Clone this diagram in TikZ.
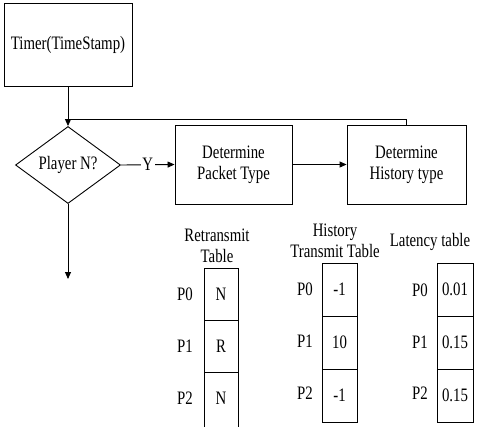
\documentclass[tikz,border=0pt]{standalone}
\usepackage{fontspec}
\setmainfont{Liberation Serif}
\usetikzlibrary{shapes.geometric,arrows.meta}

\begin{document}
\begin{tikzpicture}[x=1pt,y=-1pt,
  txt/.style={font=\fontsize{19}{21}\selectfont,align=center,inner sep=0pt,xscale=0.78},
  box/.style={draw,line width=0.9pt,inner sep=0pt},
  decision/.style={diamond,draw,line width=0.9pt,inner sep=0pt,
                   minimum width=105pt,minimum height=77pt},
  flow/.style={line width=0.9pt,-{Triangle[length=7pt,width=6pt]}},
  link/.style={line width=0.9pt},
  cell/.style={draw,line width=0.9pt,inner sep=0pt,
               minimum width=35pt,minimum height=53pt},
  rowlbl/.style={txt}]
\useasboundingbox (0,0) rectangle (492,426);
\clip (0,0) rectangle (492,426);

% flow chart shapes
\node[box,minimum width=128pt,minimum height=83pt] (timer) at (68,45) {};
\node[decision] (player) at (68,165) {};
\node[box,minimum width=117pt,minimum height=79pt] (packet) at (233.5,164.5) {};
\node[box,minimum width=119pt,minimum height=79pt] (history) at (406.5,164.5) {};
\coordinate (join) at (68,119);
\coordinate (exit) at (68,279);

% their texts
\node[txt] (timerT) at (timer) {Timer(TimeStamp)};
\node[txt] (playerT) at (player) {Player N?};
\node[txt] (packetT) at (packet) {Determine\\Packet Type};
\node[txt] (historyT) at (history) {Determine\\History type};

\draw[flow] (timer.south) -- (player.north);
\draw[link] (history.north) |- (join);
\draw[flow] (player.east) -- node[fill=white,txt,inner xsep=2pt]{Y} (packet.west);
\draw[flow] (packet.east) -- (history.west);
\draw[flow] (player.south) -- (exit);

% retransmit table
\node[txt] (rtTitle) at (217,246) {Retransmit\\Table};
\node[cell,minimum width=34pt,minimum height=52pt] (rt0) at (221,294) {};
\node[cell,minimum width=34pt,minimum height=52pt] (rt1) at (221,346) {};
\node[cell,minimum width=34pt,minimum height=62pt] (rt2) at (221,403) {};
\node[txt] (rt0v) at (221,294) {N};
\node[txt] (rt1v) at (221,346) {R};
\node[txt] (rt2v) at (221,398) {N};
\node[rowlbl] (rtP0) at (185,294) {P0};
\node[rowlbl] (rtP1) at (185,346) {P1};
\node[rowlbl] (rtP2) at (185,398) {P2};

% history transmit table
\node[txt] (htTitle) at (335,241) {History\\Transmit Table};
\node[cell] (ht0) at (339.5,289.5) {};
\node[cell] (ht1) at (339.5,342.5) {};
\node[cell] (ht2) at (339.5,395.5) {};
\node[txt] (ht0v) at (ht0) {-1};
\node[txt] (ht1v) at (ht1) {10};
\node[txt] (ht2v) at (ht2) {-1};
\node[rowlbl] (htP0) at (305,289.5) {P0};
\node[rowlbl] (htP1) at (305,341) {P1};
\node[rowlbl] (htP2) at (305,393) {P2};

% latency table
\node[txt] (ltTitle) at (430,242) {Latency table};
\node[cell,minimum width=36pt] (lt0) at (455,289.5) {};
\node[cell,minimum width=36pt] (lt1) at (455,342.5) {};
\node[cell,minimum width=36pt] (lt2) at (455,395.5) {};
\node[txt] (lt0v) at (lt0) {0.01};
\node[txt] (lt1v) at (lt1) {0.15};
\node[txt] (lt2v) at (lt2) {0.15};
\node[rowlbl] (ltP0) at (420,290) {P0};
\node[rowlbl] (ltP1) at (420,342) {P1};
\node[rowlbl] (ltP2) at (420,393) {P2};
\end{tikzpicture}
\end{document}
